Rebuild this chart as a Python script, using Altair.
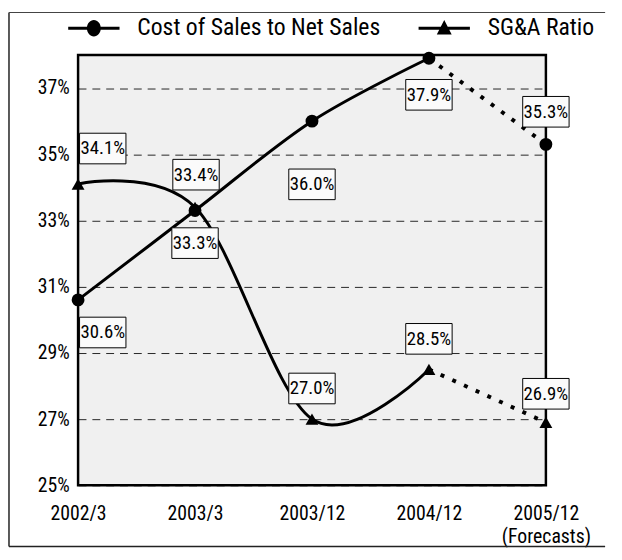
import altair as alt
import pandas as pd

# ---------------- data ----------------
periods = ["2002/3", "2003/3", "2003/12", "2004/12", "2005/12"]
series_names = ["Cost of Sales to Net Sales", "SG&A Ratio"]
cost_ratio = [30.6, 33.3, 36.0, 37.9, 35.3]
sga_ratio = [34.1, 33.4, 27.0, 28.5, 26.9]
y_ticks = [25, 27, 29, 31, 33, 35, 37]

# ---------------- label placement (styles, pixels) ----------------
PLOT_H = 436
Y_MIN, Y_MAX = 25, 38
PX_PER_UNIT = PLOT_H / (Y_MAX - Y_MIN)
label_dx = {series_names[0]: [25, 0, 0, 0, 0], series_names[1]: [25, 1, 0, 0, 0]}
label_dy = {series_names[0]: [33, 33, 64, 37, -33], series_names[1]: [-36, -33, -31, -31, -29]}

rows = []
for s, vals in zip(series_names, [cost_ratio, sga_ratio]):
    for i, (p, v) in enumerate(zip(periods, vals)):
        rows.append({"period": p, "idx": i, "series": s, "value": v,
                     "dx": label_dx[s][i],
                     "label_y": v - label_dy[s][i] / PX_PER_UNIT,
                     "label": f"{v:.1f}%"})
df = pd.DataFrame(rows)
solid_df = df[df["idx"] <= 3]
dotted_df = df[df["idx"] >= 3]

FONT = "Roboto Condensed, Liberation Sans Narrow, Arial Narrow, sans-serif"

x_scale = alt.Scale(type="point", padding=0, domain=periods)
y_scale = alt.Scale(domain=[Y_MIN, Y_MAX], nice=False, zero=False)

x_axis = alt.Axis(title=None, labelAngle=0, ticks=False, domain=False,
                  labelFont=FONT, labelFontSize=20, labelColor="black",
                  labelPadding=19, labelLineHeight=23,
                  labelExpr="datum.value == '2005/12' ? ['2005/12', '(Forecasts)'] : datum.value")
y_axis = alt.Axis(title=None, values=y_ticks, labelExpr="datum.value + '%'",
                  ticks=False, domain=False, grid=True, gridColor="black",
                  gridDash=[8, 6], gridWidth=1, gridOpacity=0.85,
                  labelFont=FONT, labelFontSize=20, labelColor="black",
                  labelPadding=9)

x_enc = alt.X("period:O", sort=periods, scale=x_scale, axis=x_axis)
y_enc = alt.Y("value:Q", scale=y_scale, axis=y_axis)
y_label_enc = alt.Y("label_y:Q", scale=y_scale, axis=y_axis)

solid = alt.Chart(solid_df).mark_line(
    color="black", strokeWidth=3, interpolate="cardinal"
).encode(x=x_enc, y=y_enc, detail="series:N")

dotted = alt.Chart(dotted_df).mark_line(
    color="black", strokeWidth=4, strokeDash=[4, 9]
).encode(x=x_enc, y=y_enc, detail="series:N")

points = alt.Chart(df).mark_point(filled=True, color="black", opacity=1, size=170).encode(
    x=x_enc, y=y_enc,
    shape=alt.Shape("series:N", scale=alt.Scale(domain=series_names, range=["circle", "triangle-up"]),
                    legend=None),
)

box_path = "M-1,-0.66L1,-0.66L1,0.66L-1,0.66Z"
boxes = alt.Chart(df).mark_point(
    shape=box_path, size=47 * 47, filled=True, fill="#fbfbfb", stroke="black",
    strokeWidth=1, opacity=1
).encode(
    x=x_enc, y=y_label_enc,
    xOffset=alt.XOffset("dx:Q", scale=None),
)

texts = alt.Chart(df).mark_text(
    font=FONT, fontSize=19, color="black", align="center", baseline="middle"
).encode(
    x=x_enc, y=y_label_enc,
    xOffset=alt.XOffset("dx:Q", scale=None),
    text="label:N",
)

circle_sym = ("M-1,-0.06L1,-0.06L1,0.06L-1,0.06Z "
              "M-0.27,0A0.27,0.32 0 1,1 0.27,0A0.27,0.32 0 1,1 -0.27,0Z")
tri_sym = ("M-1,-0.06L1,-0.06L1,0.06L-1,0.06Z "
           "M0,-0.32L0.29,0.24L-0.29,0.24Z")

legend_layer = alt.Chart(df).transform_filter("false").mark_point(
    filled=True, color="black", opacity=1, size=2704
).encode(
    x=x_enc, y=y_enc,
    shape=alt.Shape("series:N",
                    scale=alt.Scale(domain=series_names, range=[circle_sym, tri_sym]),
                    legend=alt.Legend(title=None, orient="none", direction="horizontal",
                                      legendX=-10, legendY=-53, padding=0,
                                      symbolSize=2704, symbolFillColor="black",
                                      symbolStrokeWidth=0, symbolType="circle",
                                      labelFont=FONT, labelFontSize=24, labelColor="black",
                                      labelOffset=18, labelLimit=400, columnPadding=38)),
)

frame_df = pd.DataFrame({"k": [0]})
frame_left = alt.Chart(frame_df).mark_rule(color="#222", strokeWidth=1.5).encode(
    x=alt.value(-70), y=alt.value(-43), y2=alt.value(498))
frame_top = alt.Chart(frame_df).mark_rule(color="#444", strokeWidth=1.2).encode(
    x=alt.value(-70), x2=alt.value(534), y=alt.value(-43))
frame_bottom = alt.Chart(frame_df).mark_rule(color="#222", strokeWidth=1.5).encode(
    x=alt.value(-70), x2=alt.value(534), y=alt.value(498))

chart = alt.layer(
    solid, dotted, points, boxes, texts, legend_layer, frame_left, frame_top, frame_bottom
).resolve_scale(shape="independent").properties(
    width=474, height=PLOT_H,
    autosize=alt.AutoSizeParams(type="none"),
    padding={"left": 71, "top": 44, "right": 69, "bottom": 64},
    background="white",
).configure_view(
    fill="#f0f0f0", stroke="black", strokeWidth=2.5
)

chart.save("out.html", embed_options={"renderer": "svg", "actions": False})
